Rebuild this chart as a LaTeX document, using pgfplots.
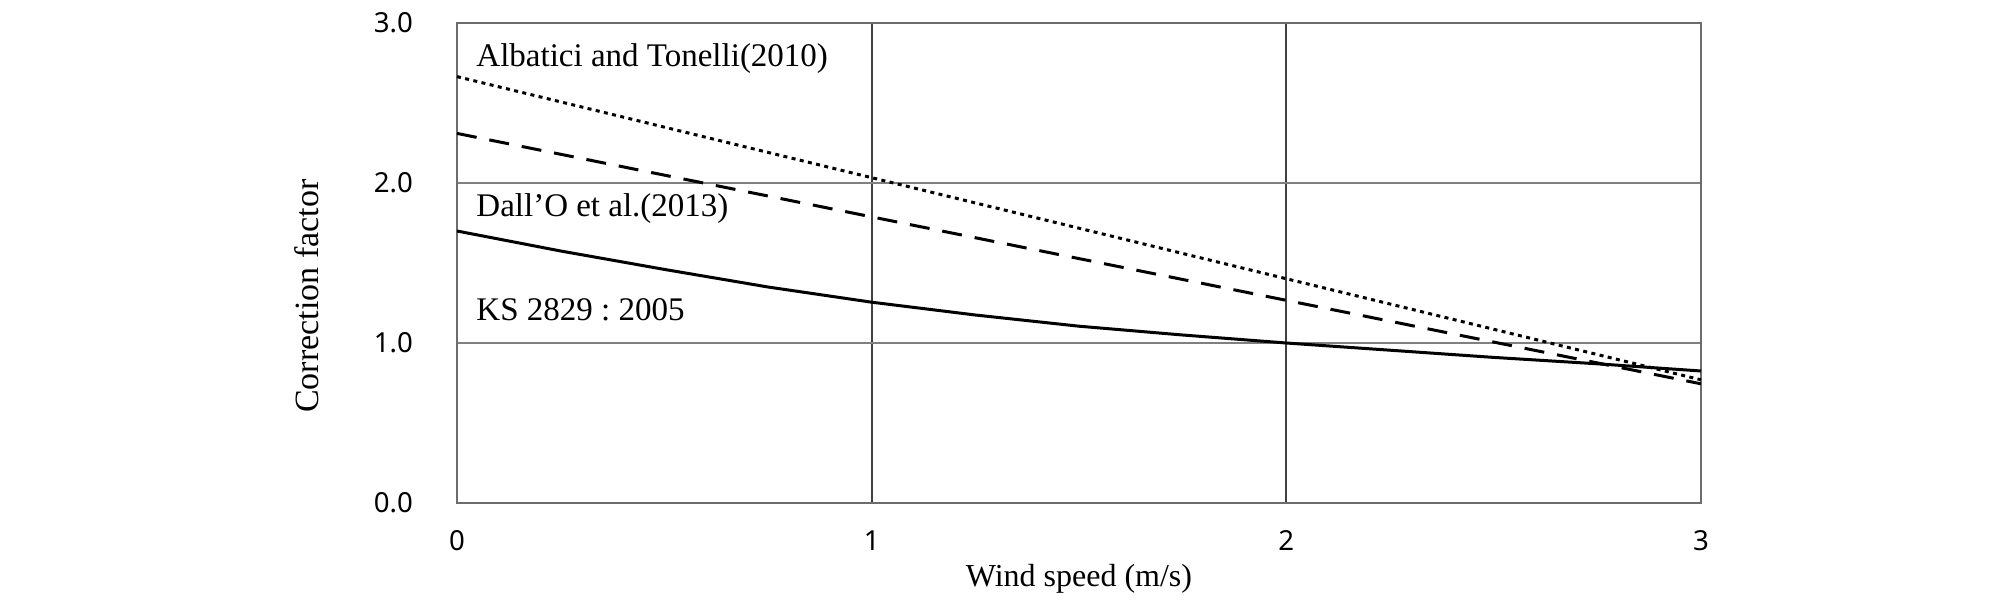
\documentclass[border=0pt]{standalone}
\usepackage{fontspec}
\setmainfont{Liberation Serif}
\newfontfamily\tickfont{Noto Sans}
\usepackage{pgfplots}
\pgfplotsset{compat=1.18}
\frenchspacing
\begin{document}
\begin{tikzpicture}
\begin{axis}[
  scale only axis, width=622pt, height=240pt,
  xmin=0, xmax=3, ymin=0, ymax=3,
  xtick={0,1,2,3}, ytick={0,1,2,3},
  xticklabels={0,1,2,3}, yticklabels={0.0,1.0,2.0,3.0},
  ticklabel style={font=\tickfont\fontsize{13.8}{16}\selectfont},
  major tick length=0pt,
  xticklabel style={anchor=center, yshift=-19pt},
  yticklabel style={anchor=east, xshift=-18.5pt},
  grid=major,
  x grid style={black!75, line width=1pt},
  y grid style={gray, line width=1pt},
  axis line style={gray!85!black, line width=1pt},
  xlabel={Wind speed (m/s)}, ylabel={Correction factor},
  xlabel style={font=\fontsize{16}{19}\selectfont, at={(axis description cs:0.5,-0.158)}, anchor=center},
  ylabel style={font=\fontsize{17}{20}\selectfont, at={(axis description cs:-0.1206,0.431)}, anchor=center},
  clip=false,
]
\addplot[black, line width=1.5pt, dotted, dash pattern=on 2pt off 2.2pt] coordinates {(0,2.665) (3,0.77)};
\addplot[black, line width=1.5pt, dash pattern=on 10pt off 6.5pt] coordinates {(0,2.31) (3,0.745)};
\addplot[black, line width=1.5pt] coordinates {
 (0,1.70) (0.25,1.575) (0.5,1.46) (0.75,1.35) (1,1.255) (1.25,1.175) (1.5,1.105)
 (1.75,1.05) (2,1.0) (2.25,0.955) (2.5,0.91) (2.75,0.87) (3,0.825)};
\node[anchor=west, font=\fontsize{16.5}{19}\selectfont, inner sep=0pt] at (axis cs:0.046,2.78) {Albatici and Tonelli(2010)};
\node[anchor=west, font=\fontsize{16.5}{19}\selectfont, inner sep=0pt] at (axis cs:0.046,1.84) {Dall’O et al.(2013)};
\node[anchor=west, font=\fontsize{16.5}{19}\selectfont, inner sep=0pt] at (axis cs:0.046,1.21) {KS 2829 : 2005};
\end{axis}
\pgfresetboundingbox
\path[use as bounding box] (-228.5pt,-48.5pt) rectangle (775.5pt,251.5pt);
\end{tikzpicture}
\end{document}
